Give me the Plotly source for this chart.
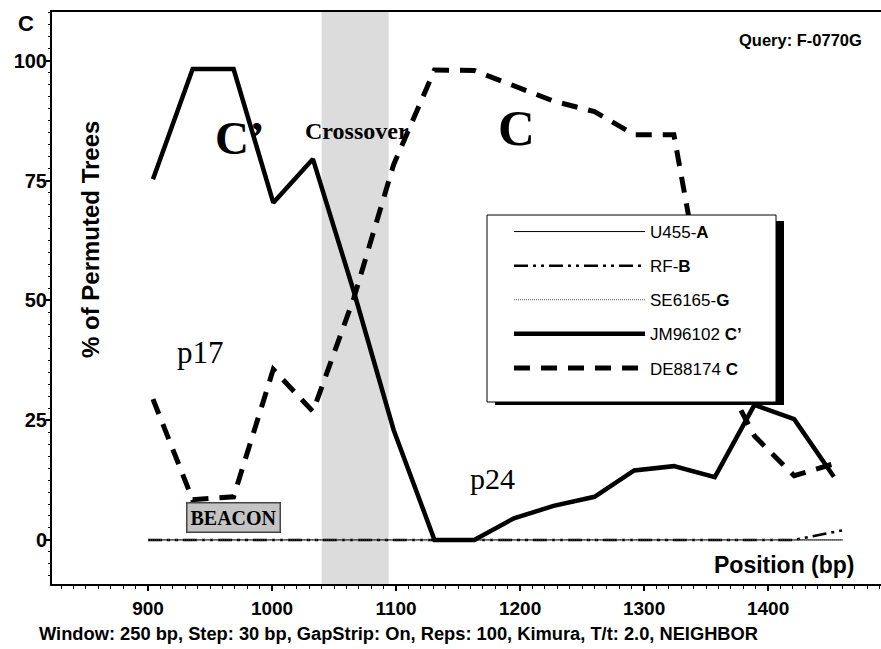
import plotly.graph_objects as go

# ---- data ----
positions = [904, 936, 969, 1001, 1033, 1066, 1098, 1131, 1163, 1195,
             1227, 1260, 1292, 1324, 1357, 1389, 1421, 1453]
jm96102_cprime = [75.3, 98.3, 98.3, 70.4, 79.5, 51.8, 23.0, 0, 0, 4.5,
                  7.1, 9.0, 14.5, 15.4, 13.1, 28.2, 25.2, 13.2]
de88174_c = [29.4, 8.4, 9.0, 35.6, 26.8, 50.5, 78.3, 98.1, 98.0, 94.8,
             91.6, 89.4, 84.6, 84.6, 37.4, 21.7, 13.4, 15.9]
baseline_positions = [900, 1421, 1460]
u455_a = [0, 0, 0]
rf_b = [0, 0, 2.0]
se6165_g = [0, 0, 0]
x_ticks = [900, 1000, 1100, 1200, 1300, 1400]
y_ticks = [0, 25, 50, 75, 100]
crossover_region = [1040, 1094]

W, H = 881, 649
L, R, T, B = 52, 0, 12, 65
PW, PH = W - L - R, H - T - B


def px(x):
    return (x - L) / PW


def py(y):
    return (H - B - y) / PH


ARIAL = "Liberation Sans, Arial, sans-serif"
TIMES = "Liberation Serif, Times New Roman, serif"

fig = go.Figure()

fig.add_trace(go.Scatter(x=baseline_positions, y=u455_a, mode="lines",
                         name="U455-<b>A</b>", legendgroup="a",
                         line=dict(color="black", width=1)))
fig.add_trace(go.Scatter(x=baseline_positions, y=rf_b, mode="lines",
                         name="RF-<b>B</b>", legendgroup="b",
                         line=dict(color="black", width=2.5,
                                   dash="14px,5px,3px,5px,3px,5px")))
fig.add_trace(go.Scatter(x=baseline_positions, y=se6165_g, mode="lines",
                         name="SE6165-<b>G</b>", legendgroup="g",
                         line=dict(color="#555555", width=1, dash="1px,1px")))
fig.add_trace(go.Scatter(x=positions, y=jm96102_cprime, mode="lines",
                         name="JM96102 <b>C’</b>", legendgroup="cp",
                         line=dict(color="black", width=4.5)))
fig.add_trace(go.Scatter(x=positions, y=de88174_c, mode="lines",
                         name="DE88174 <b>C</b>", legendgroup="c",
                         line=dict(color="black", width=5, dash="16px,11px")))

shapes = [
    # crossover band
    dict(type="rect", xref="x", yref="paper", x0=crossover_region[0],
         x1=crossover_region[1], y0=0, y1=1, fillcolor="#dcdcdc",
         line=dict(width=0), layer="below"),
    # legend shadow
    dict(type="rect", xref="paper", yref="paper", x0=px(495), x1=px(784),
         y0=py(405), y1=py(221), fillcolor="black", line=dict(width=0),
         layer="above"),
    # legend box
    dict(type="rect", xref="paper", yref="paper", x0=px(487), x1=px(776),
         y0=py(402), y1=py(215), fillcolor="white",
         line=dict(color="black", width=1), layer="above"),
]


def ann(text, x, y, family, size, **kw):
    d = dict(text=text, x=px(x), y=py(y), xref="paper", yref="paper",
             xanchor="center", yanchor="middle", showarrow=False,
             font=dict(family=family, size=size, color="black"))
    d.update(kw)
    return d


annotations = [
    ann("<b>C</b>", 26, 24, ARIAL, 22),
    ann("<b>Query: F-0770G</b>", 864, 40, ARIAL, 16.5, xanchor="right"),
    ann("<b>% of Permuted Trees</b>", 90, 240, ARIAL, 24, textangle=-90),
    ann("<b>Position (bp)</b>", 857, 565, ARIAL, 23, xanchor="right"),
    ann("<b>C’</b>", 240, 138, TIMES, 47),
    ann("<b>Crossover</b>", 357, 131, TIMES, 24),
    ann("<b>C</b>", 516, 128, TIMES, 51),
    ann("p17", 200, 352, TIMES, 31),
    ann("p24", 492, 478, TIMES, 30),
    ann("<b>BEACON</b>", 233, 517, TIMES, 20, bgcolor="#c4c4c4",
        bordercolor="#444444", borderwidth=1.5, borderpad=3),
    ann("<b>Window: 250 bp, Step: 30 bp, GapStrip: On, Reps: 100, "
        "Kimura, T/t: 2.0, NEIGHBOR</b>", 37, 633, ARIAL, 18.3,
        xanchor="left"),
]

fig.update_layout(
    width=W, height=H,
    margin=dict(l=L, r=R, t=T, b=B, pad=0),
    paper_bgcolor="white", plot_bgcolor="white",
    shapes=shapes, annotations=annotations,
    showlegend=True,
    legend=dict(x=px(509), y=py(214), xanchor="left", yanchor="top",
                bgcolor="rgba(0,0,0,0)", borderwidth=0,
                itemwidth=131, tracegroupgap=9,
                font=dict(family=ARIAL, size=17, color="black")),
    xaxis=dict(range=[822.6, 1491], tickvals=x_ticks, showgrid=False,
               zeroline=False, showline=True, linecolor="black",
               linewidth=2, mirror=True, ticks="outside", ticklen=5,
               tickwidth=1.5, tickcolor="black", automargin=False,
               ticklabelstandoff=1,
               tickfont=dict(family=ARIAL, size=19, color="black",
                             weight="bold"),
               minor=dict(dtick=10, tick0=900, ticks="outside", ticklen=3,
                          tickcolor="black", tickwidth=1)),
    yaxis=dict(range=[-9.2, 110.2], tickvals=y_ticks, showgrid=False,
               zeroline=False, showline=True, linecolor="black",
               linewidth=2, ticks="outside", ticklen=4, tickwidth=1.5,
               tickcolor="black", automargin=False,
               ticklabelstandoff=-5,
               tickfont=dict(family=ARIAL, size=20, color="black",
                             weight="bold"),
               minor=dict(dtick=2.5, tick0=0, ticks="outside", ticklen=2,
                          tickcolor="black", tickwidth=1)),
)

fig.write_html("out.html", config={"displayModeBar": False},
               post_script="document.body.style.margin='0';")
